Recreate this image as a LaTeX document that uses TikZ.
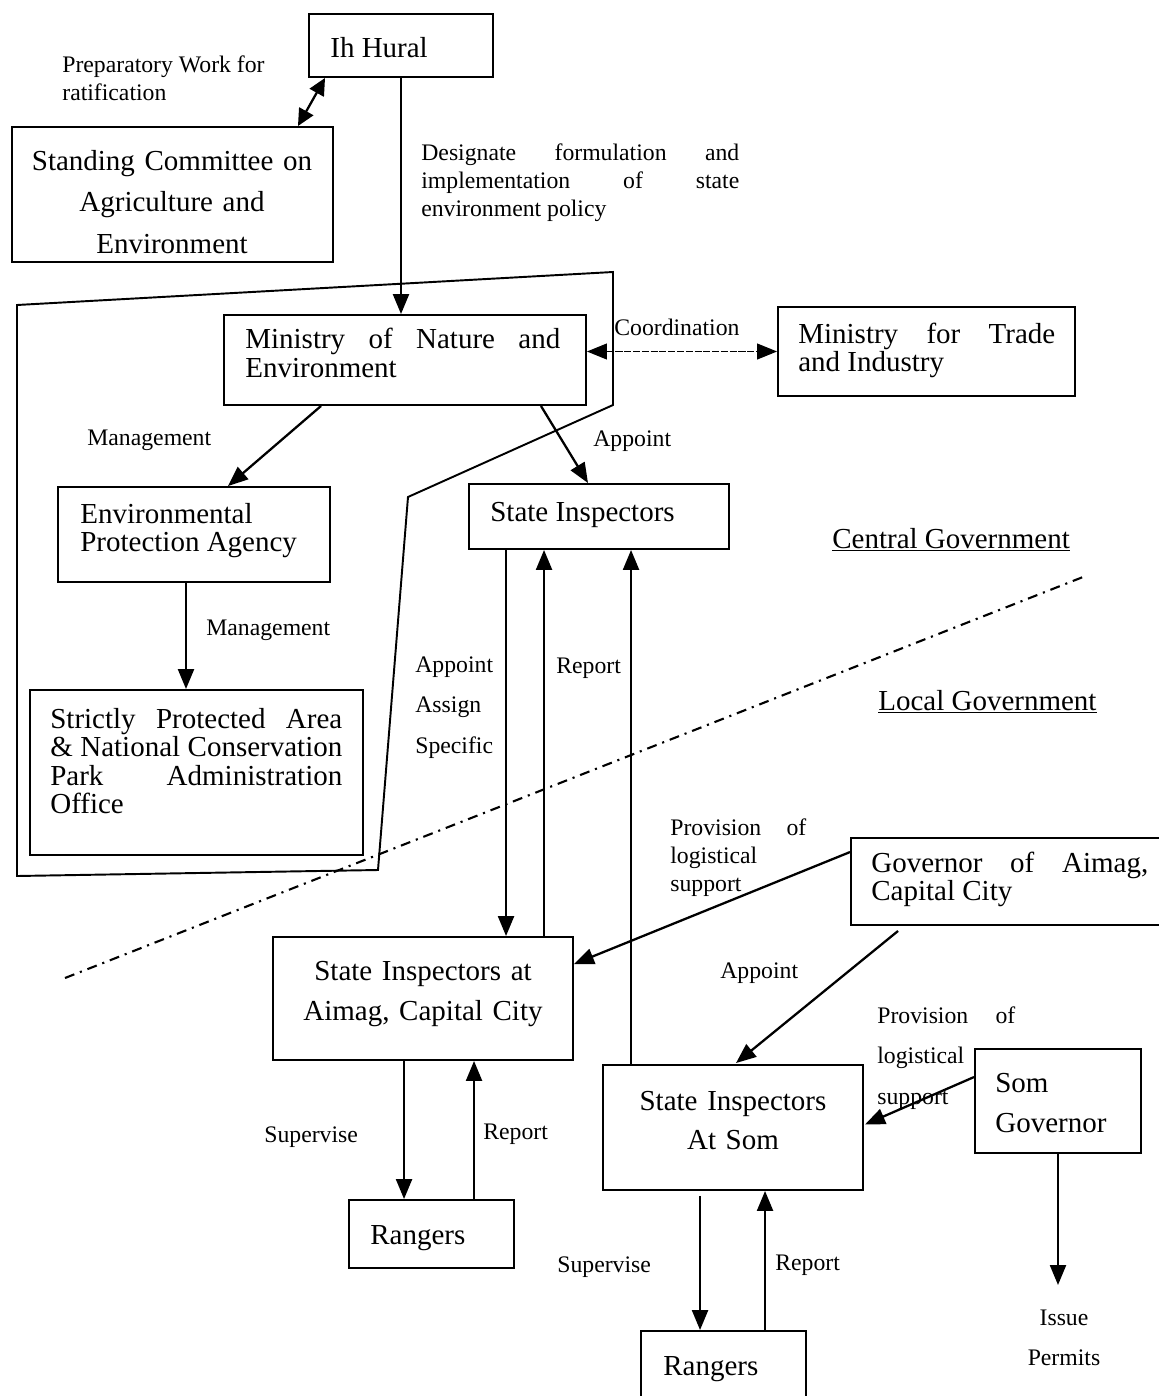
\documentclass[tikz,border=0pt]{standalone}
\usepackage{fontspec}
\setmainfont{Liberation Serif}
\usetikzlibrary{arrows.meta,calc,fit}
\tikzset{
  orgbox/.style   = {draw, line width=1.1pt, inner sep=0pt},
  boxtext/.style  = {inner sep=0pt, anchor=base west, align=justify, font=\fontsize{16.5}{17}\selectfont},
  boxtextc/.style = {inner sep=0pt, anchor=base, align=center, font=\fontsize{16.5}{23.5}\selectfont},
  linklbl/.style  = {inner sep=0pt, anchor=base west, align=justify, font=\fontsize{13.5}{16}\selectfont},
  flowarr/.style  = {-{Triangle[length=4mm,width=3.2mm]}, line width=1.3pt},
  dblarr/.style   = {{Triangle[length=3.4mm,width=3.2mm]}-{Triangle[length=3.4mm,width=3.2mm]}, line width=1.3pt},
  coordarr/.style = {{Triangle[length=4mm,width=3.2mm]}-{Triangle[length=4mm,width=3.2mm]}, line width=0.6pt, dash pattern=on 4pt off 1pt},
  govline/.style  = {line width=1.2pt, dash pattern=on 5.7pt off 3.4pt on 1.2pt off 3.4pt}
}

\begin{document}
\begin{tikzpicture}[x=0.02cm, y=-0.02cm]
  \useasboundingbox (0,0) rectangle (1159,1396);
  % frame of the central bodies, and the central/local divide
  \draw[line width=1.1pt] (17,305) -- (613,272) -- (613,405) -- (408,497)
        -- (378,870) -- (17,876) -- cycle;
  \draw[govline] (65,978) -- (1083,577);

  % boxes
  \node[orgbox, fit={(309,14) (493,77)}]     (ih) {};
  \node[orgbox, fit={(12,127) (333,262)}]    (sc) {};
  \node[orgbox, fit={(224,315) (586,405)}]   (mne) {};
  \node[orgbox, fit={(778,307) (1075,396)}]  (mti) {};
  \node[orgbox, fit={(58,487) (330,582)}]    (epa) {};
  \node[orgbox, fit={(469,484) (729,549)}]   (si) {};
  \node[orgbox, fit={(30,690) (363,855)}]    (spa) {};
  \node[orgbox, fit={(851,838) (1175,925)}]  (gov) {};
  \node[orgbox, fit={(273,937) (573,1060)}]  (sia) {};
  \node[orgbox, fit={(975,1049) (1141,1153)}] (somgov) {};
  \node[orgbox, fit={(603,1065) (863,1190)}] (sis) {};
  \node[orgbox, fit={(349,1200) (514,1268)}] (rg1) {};
  \node[orgbox, fit={(641,1331) (806,1420)}] (rg2) {};

  % box texts
  \node[boxtext] (ihtxt) at (330,57) {Ih Hural};
  \node[boxtextc, text width=6.2cm, font=\fontsize{16.5}{23.8}\selectfont] (sctxt) at (172,170)
       {Standing Committee on\\Agriculture and\\Environment};
  \node[boxtext, text width=6.3cm] (mnetxt) at (245,348)
       {Ministry\hfill of\hfill Nature\hfill and\\Environment};
  \node[boxtext, text width=5.14cm, font=\fontsize{16.5}{16.4}\selectfont] (mtitxt) at (798,343)
       {Ministry\hfill for\hfill Trade\\and Industry};
  \node[boxtext, text width=5cm, font=\fontsize{16.5}{16}\selectfont] (epatxt) at (80,523)
       {Environmental\\Protection Agency};
  \node[boxtext] (sitxt) at (490,521) {State Inspectors};
  \node[boxtext, text width=5.84cm, font=\fontsize{16.5}{16.3}\selectfont] (spatxt) at (50,728)
       {Strictly\hfill Protected\hfill Area\\\&\hfill National\hfill Conservation\\Park\hfill Administration\\Office};
  \node[boxtext, text width=5.54cm, font=\fontsize{16.5}{16}\selectfont] (govtxt) at (871,872)
       {Governor\hfill of\hfill Aimag,\\Capital City};
  \node[boxtextc, text width=5.8cm, font=\fontsize{16.5}{23.3}\selectfont] (siatxt) at (423,980)
       {State Inspectors at\\Aimag, Capital City};
  \node[boxtext, text width=2.8cm, font=\fontsize{16.5}{23.3}\selectfont] (somgovtxt) at (995,1092)
       {Som\\Governor};
  \node[boxtextc, text width=4.8cm, font=\fontsize{16.5}{22.7}\selectfont] (sistxt) at (733,1110)
       {State Inspectors\\At Som};
  \node[boxtext] (rg1txt) at (370,1244) {Rangers};
  \node[boxtext] (rg2txt) at (663,1375) {Rangers};

  % link labels
  \node[linklbl, text width=4.3cm, font=\fontsize{13.5}{16.4}\selectfont] (preptxt) at (62,72)
       {Preparatory Work for\\ratification};
  \node[linklbl, text width=6.36cm] (destxt) at (421,160)
       {Designate\hfill formulation\hfill and\\implementation\hfill of\hfill state\\environment policy};
  \node[linklbl] (coordtxt) at (614,335) {Coordination};
  \node[linklbl] (mg1txt) at (87,445) {Management};
  \node[linklbl] (ap1txt) at (593,446) {Appoint};
  \node[linklbl] (mg2txt) at (206,635) {Management};
  \node[linklbl, text width=2cm, font=\fontsize{13.5}{23.3}\selectfont] (aastxt) at (415,672)
       {Appoint\\Assign\\Specific};
  \node[linklbl] (rp1txt) at (556,673) {Report};
  \node[linklbl, text width=2.72cm, font=\fontsize{13.5}{16.2}\selectfont] (prov1txt) at (670,835)
       {Provision\hfill of\\logistical\\support};
  \node[linklbl] (ap2txt) at (720,978) {Appoint};
  \node[linklbl, text width=2.76cm, font=\fontsize{13.5}{23.3}\selectfont] (prov2txt) at (877,1023)
       {Provision\hfill of\\logistical\\support};
  \node[linklbl] (sup1txt) at (264,1142) {Supervise};
  \node[linklbl] (rp2txt) at (483,1139) {Report};
  \node[linklbl] (sup2txt) at (557,1272) {Supervise};
  \node[linklbl] (rp3txt) at (775,1270) {Report};
  \node[linklbl, anchor=base, align=center, text width=2cm, font=\fontsize{13.5}{23.3}\selectfont]
       (issuetxt) at (1064,1325) {Issue\\Permits};
  \node[boxtext] (centraltxt) at (832,548) {\underline{Central Government}};
  \node[boxtext] (localtxt) at (878,710) {\underline{Local Government}};

  % connectors
  \draw[flowarr] (ih.south) -- (ih.south |- mne.north);
  \draw[dblarr] ($(sc.north east)+(-36,0)$) -- ($(ih.south west)+(17,0)$);
  \draw[coordarr] (mne.east |- mti.west) -- (mti.west);
  \draw[flowarr] ($(mne.south west)+(98,0)$) -- ($(epa.north)+(34,0)$);
  \draw[flowarr] ($(mne.south east)+(-46,0)$) -- ($(si.north)+(-11,0)$);
  \draw[flowarr] ($(epa.south)+(-8,0)$) -- ($(spa.north)+(-10.5,0)$);
  \draw[flowarr] ($(si.south west)+(38,0)$) -- ($(sia.north west)+(234,0)$);
  \draw[flowarr] ($(sia.north west)+(272,0)$) -- ($(si.south west)+(76,0)$);
  \draw[flowarr] ($(sis.north west)+(29,0)$) -- ($(si.south west)+(163,0)$);
  \draw[flowarr] ($(gov.north west)+(0,15)$) -- ($(sia.north east)+(0,28)$);
  \draw[flowarr] ($(gov.south west)+(48,5)$) -- ($(sis.north)+(3,-1)$);
  \draw[flowarr] ($(somgov.north west)+(0,29)$) -- ($(sis.east)+(1,-3)$);
  \coordinate (permit) at (1058,1285);
  \draw[flowarr] (somgov.south) -- (somgov.south |- permit);
  \draw[flowarr] ($(sia.south west)+(132,0)$) -- ($(rg1.north west)+(56,0)$);
  \draw[flowarr] ($(rg1.north west)+(126,0)$) -- ($(sia.south west)+(202,0)$);
  \draw[flowarr] ($(sis.south west)+(98,5)$) -- ($(rg2.north west)+(60,0)$);
  \draw[flowarr] ($(rg2.north west)+(125,0)$) -- ($(sis.south west)+(163,0)$);
\end{tikzpicture}
\end{document}
